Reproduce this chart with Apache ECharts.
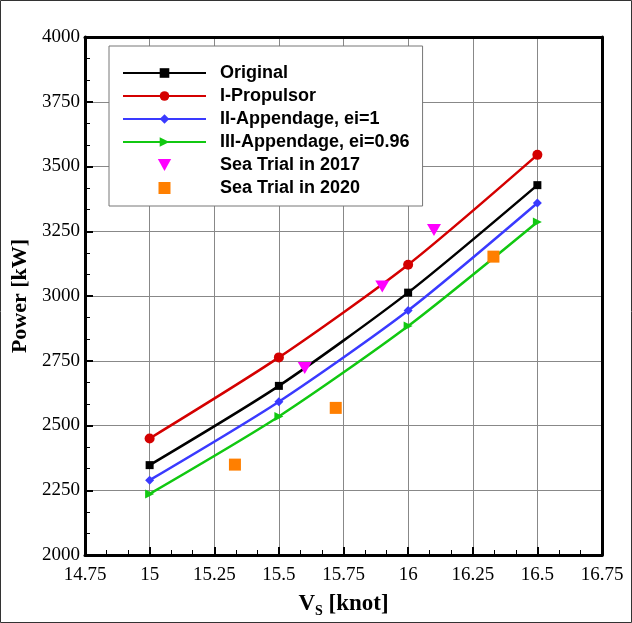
<!DOCTYPE html>
<html><head><meta charset="utf-8">
<script src="https://cdn.jsdelivr.net/npm/echarts@6/dist/echarts.min.js"></script>
<style>html,body{margin:0;padding:0;background:#fff}#c{width:632px;height:623px}</style>
</head><body><div id="c"></div>
<script>
const speeds = [15, 15.5, 16, 16.5];
const original = [2347, 2653, 3013, 3428];
const propulsor = [2450, 2763, 3121, 3545];
const appendage1 = [2289, 2592, 2944, 3359];
const appendage096 = [2236, 2535, 2884, 3286];
const trial2017x = [15.6, 15.9, 16.1];
const trial2017y = [2722, 3037, 3255];
const trial2020x = [15.33, 15.72, 16.33];
const trial2020y = [2349, 2568, 3152];
const xTicks = [14.75, 15, 15.25, 15.5, 15.75, 16, 16.25, 16.5, 16.75];
const yTicks = [2000, 2250, 2500, 2750, 3000, 3250, 3500, 3750, 4000];

const pairs = (xs, ys) => xs.map((x, i) => [x, ys[i]]);
const chart = echarts.init(document.getElementById('c'), null, {renderer: 'canvas'});
const serif = '"Liberation Serif", "Times New Roman", serif';
const sans = '"Liberation Sans", Arial, sans-serif';
const triRight = 'path://M0,0 L10,5 L0,10 Z';
const triDown = 'path://M0,0 L10,0 L5,9 Z';
const square = 'path://M0,0 L10,0 L10,10 L0,10 Z';
const tickRich = {t: {fontFamily: serif, fontSize: 19, color: '#000'}};

function lineSeries(name, ys, color, symbol, size) {
  return {
    name, type: 'line', data: pairs(speeds, ys), smooth: 0.25,
    symbol, symbolSize: size, showAllSymbol: true,
    lineStyle: {color, width: 2.5}, itemStyle: {color},
    z: 5
  };
}

chart.setOption({
  animation: false,
  backgroundColor: '#fff',
  grid: {left: 85, right: 30, top: 37, bottom: 65, containLabel: false},
  graphic: [{
    type: 'rect', shape: {x: 0.5, y: 0.5, width: 631, height: 622},
    style: {fill: 'none', stroke: '#333', lineWidth: 1}, z: 100
  }],
  legend: {
    orient: 'vertical', left: 109, top: 46,
    padding: [18, 13, 9, 13],
    backgroundColor: '#fff', borderColor: '#777', borderWidth: 1,
    itemWidth: 83, itemHeight: 12, itemGap: 5,
    textStyle: {fontFamily: sans, fontWeight: 'bold', fontSize: 18, color: '#000', lineHeight: 18, padding: [0, 0, 0, 9]},
    data: ['Original', 'I-Propulsor', 'II-Appendage, ei=1', 'III-Appendage, ei=0.96', 'Sea Trial in 2017', 'Sea Trial in 2020']
  },
  xAxis: [{
    type: 'value', min: 14.75, max: 16.75, interval: 0.25,
    axisLine: {show: true, onZero: false, lineStyle: {color: '#000', width: 3}},
    axisTick: {show: true, inside: true, length: 8, lineStyle: {color: '#000', width: 2}},
    minorTick: {show: true, splitNumber: 3, length: 5, lineStyle: {color: '#000', width: 1}},
    splitLine: {show: true, lineStyle: {color: '#888', width: 1}},
    axisLabel: {margin: 11, rich: tickRich,
      formatter: v => '{t|' + String(parseFloat(Number(v).toFixed(2))) + '}'},
    name: '{a|V}{s|S}{a| [knot]}', nameLocation: 'middle', nameGap: 36,
    nameTextStyle: {rich: {
      a: {fontFamily: serif, fontWeight: 'bold', fontSize: 23, color: '#000'},
      s: {fontFamily: serif, fontWeight: 'bold', fontSize: 14, color: '#000', verticalAlign: 'bottom', padding: [13, 0, 0, 0]}
    }}
  }, {
    type: 'value', position: 'top', min: 14.75, max: 16.75, interval: 0.25,
    axisLine: {show: true, onZero: false, lineStyle: {color: '#000', width: 3}},
    axisTick: {show: false}, axisLabel: {show: false}, splitLine: {show: false}
  }],
  yAxis: [{
    type: 'value', min: 2000, max: 4000, interval: 250,
    axisLine: {show: true, onZero: false, lineStyle: {color: '#000', width: 3}},
    axisTick: {show: true, inside: true, length: 8, lineStyle: {color: '#000', width: 2}},
    minorTick: {show: true, splitNumber: 3, length: 5, lineStyle: {color: '#000', width: 1}},
    splitLine: {show: true, lineStyle: {color: '#888', width: 1}},
    axisLabel: {margin: 5, rich: tickRich, formatter: v => '{t|' + String(v) + '}'},
    name: 'Power [kW]', nameLocation: 'middle', nameGap: 50,
    nameTextStyle: {fontFamily: serif, fontWeight: 'bold', fontSize: 22, color: '#000'}
  }, {
    type: 'value', position: 'right', min: 2000, max: 4000, interval: 250,
    axisLine: {show: true, onZero: false, lineStyle: {color: '#000', width: 3}},
    axisTick: {show: false}, axisLabel: {show: false}, splitLine: {show: false}
  }],
  series: [
    lineSeries('Original', original, '#000000', 'rect', 8),
    lineSeries('I-Propulsor', propulsor, '#d40000', 'circle', 10),
    lineSeries('II-Appendage, ei=1', appendage1, '#3a3aff', 'diamond', 9),
    lineSeries('III-Appendage, ei=0.96', appendage096, '#11c811', triRight, 9),
    {name: 'Sea Trial in 2017', type: 'scatter', data: pairs(trial2017x, trial2017y),
     symbol: triDown, symbolSize: [14, 12], itemStyle: {color: '#ff00ff', opacity: 1}, z: 6},
    {name: 'Sea Trial in 2020', type: 'scatter', data: pairs(trial2020x, trial2020y),
     symbol: square, symbolSize: 12, itemStyle: {color: '#ff7f00', opacity: 1}, z: 6}
  ]
});
</script></body></html>
